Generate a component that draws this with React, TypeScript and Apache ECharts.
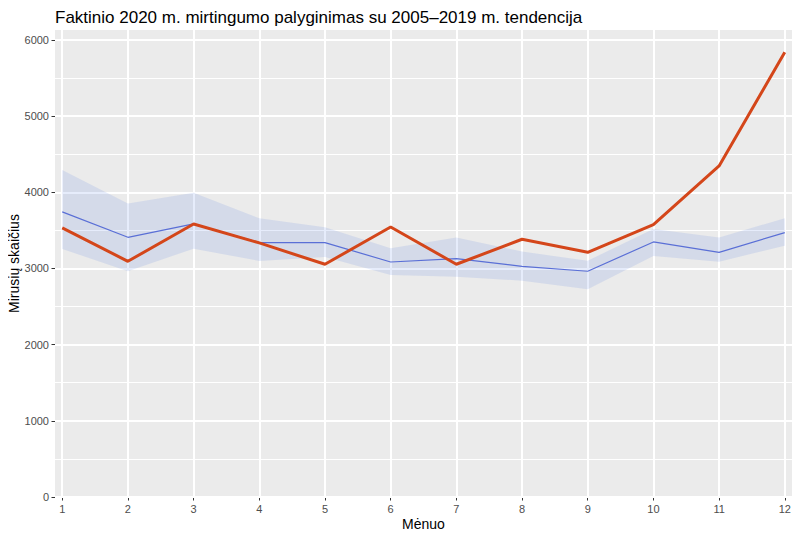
import React, { useEffect, useRef } from "react";
import * as echarts from "echarts";

const months = [1, 2, 3, 4, 5, 6, 7, 8, 9, 10, 11, 12];
const trend = [3742, 3409, 3584, 3339, 3339, 3085, 3129, 3028, 2963, 3348, 3212, 3470];
const lower = [3256, 2963, 3260, 3098, 3150, 2915, 2892, 2840, 2727, 3164, 3089, 3299];
const upper = [4293, 3851, 3995, 3659, 3540, 3265, 3405, 3221, 3102, 3518, 3405, 3659];
const actual2020 = [3532, 3094, 3584, 3335, 3055, 3545, 3055, 3383, 3212, 3575, 4345, 5838];
const yMajorTicks = [0, 1000, 2000, 3000, 4000, 5000, 6000];
const yMinorTicks = [500, 1500, 2500, 3500, 4500, 5500];

const FONT = "'Liberation Sans', Arial, Helvetica, sans-serif";

export default function App() {
  const ref = useRef<HTMLDivElement>(null);
  useEffect(() => {
    if (!ref.current) return;
    const chart = echarts.init(ref.current, null, { renderer: "svg" });
    const bandData = months.map((m, i) => [m, lower[i], upper[i]]);
    chart.setOption({
      animation: false,
      backgroundColor: "#FFFFFF",
      textStyle: { fontFamily: FONT },
      title: {
        text: "Faktinio 2020 m. mirtingumo palyginimas su 2005–2019 m. tendencija",
        left: 55,
        top: 4,
        padding: [5, 0, 5, 0],
        textStyle: { fontSize: 17, fontWeight: "normal", color: "#000000", fontFamily: FONT },
      },
      grid: {
        left: 55,
        top: 30,
        width: 737,
        height: 467,
        show: true,
        backgroundColor: "#EBEBEB",
        borderWidth: 0,
        containLabel: false,
        outerBoundsMode: "none",
      },
      xAxis: {
        type: "value",
        min: 0.89,
        max: 12.11,
        name: "Mėnuo",
        nameLocation: "middle",
        nameGap: 20,
        nameMoveOverlap: false,
        nameTextStyle: { fontSize: 14, color: "#000000", fontFamily: FONT },
        axisLine: { show: false },
        axisTick: { show: true, length: 3.5, customValues: months, lineStyle: { color: "#333333", width: 1 } },
        axisLabel: {
          customValues: months,
          fontSize: 11,
          color: "#4D4D4D",
          margin: 6,
          fontFamily: FONT,
          formatter: (v: number) => String(v),
        },
        splitLine: { show: true, lineStyle: { color: "#FFFFFF", width: 2 } },
      },
      yAxis: [
        {
          type: "value",
          min: 0,
          max: 6130,
          name: "Mirusių skaičius",
          nameLocation: "middle",
          nameGap: 34,
          nameMoveOverlap: false,
          nameTextStyle: { fontSize: 14, color: "#000000", fontFamily: FONT },
          axisLine: { show: false },
          axisTick: { show: true, length: 3.5, customValues: yMajorTicks, lineStyle: { color: "#333333", width: 1 } },
          axisLabel: {
            customValues: yMajorTicks,
            fontSize: 11,
            color: "#4D4D4D",
            margin: 6,
            fontFamily: FONT,
            formatter: (v: number) => String(v),
          },
          splitLine: { show: true, lineStyle: { color: "#FFFFFF", width: 2 } },
          z: 1,
        },
        {
          type: "value",
          min: 0,
          max: 6130,
          position: "left",
          axisLine: { show: false },
          axisTick: { show: false, customValues: yMinorTicks },
          axisLabel: { show: false, customValues: yMinorTicks },
          splitLine: { show: true, lineStyle: { color: "#FFFFFF", width: 1 } },
          z: 0,
        },
      ],
      series: [
        {
          type: "custom",
          name: "band",
          data: bandData,
          encode: { x: 0, y: [1, 2] },
          silent: true,
          z: 2,
          renderItem: (params: any, api: any) => {
            if (params.dataIndex !== 0) return null;
            const top = bandData.map((d) => api.coord([d[0], d[2]]));
            const bottom = bandData.map((d) => api.coord([d[0], d[1]])).reverse();
            return {
              type: "polygon",
              shape: { points: top.concat(bottom) },
              style: { fill: "rgba(65,105,225,0.13)", stroke: "none" },
            };
          },
        },
        {
          type: "line",
          name: "Tendencija",
          data: months.map((m, i) => [m, trend[i]]),
          symbol: "none",
          lineStyle: { color: "#5A6FD6", width: 1.2 },
          z: 3,
        },
        {
          type: "line",
          name: "2020",
          data: months.map((m, i) => [m, actual2020[i]]),
          symbol: "none",
          lineStyle: { color: "#D4461A", width: 3 },
          z: 4,
        },
      ],
    });
    return () => chart.dispose();
  }, []);
  return <div ref={ref} style={{ width: 800, height: 540, margin: -8 }} />;
}
